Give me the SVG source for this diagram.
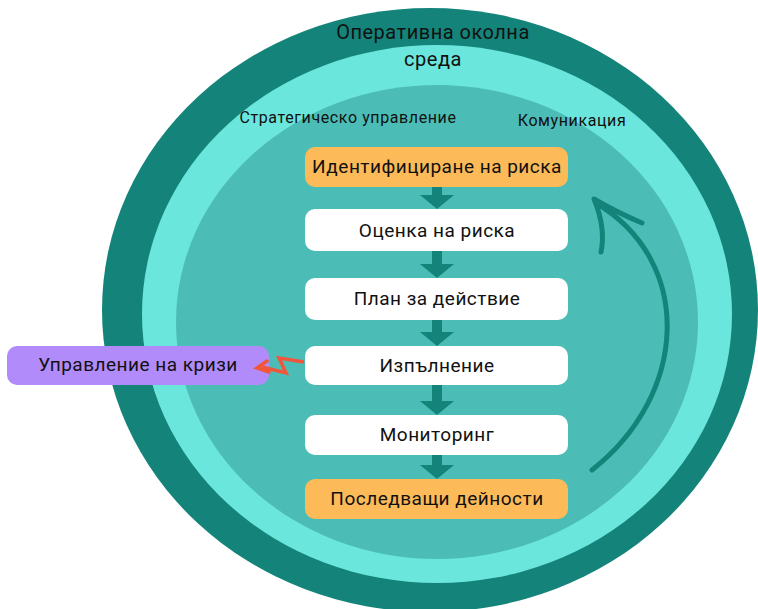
<svg xmlns="http://www.w3.org/2000/svg" width="758" height="609" viewBox="0 0 758 609">
<defs>
<style>
.t{font-family:Roboto,"Liberation Sans",sans-serif;fill:#111;text-anchor:middle}
.box{font-size:19px;letter-spacing:0.5px}
.lbl{font-size:16px;letter-spacing:0.6px}
.big{font-size:20px;letter-spacing:0.5px}
.ow{fill:#fdba58}
.wh{fill:#ffffff}
.arr{fill:#14847a}
</style>
</defs>
<rect width="758" height="609" fill="#ffffff"/>
<g id="rings">
<ellipse cx="430" cy="310" rx="328" ry="302" fill="#14847a"/>
<ellipse cx="437" cy="314" rx="295" ry="269" fill="#6be6dd"/>
<ellipse cx="437" cy="322" rx="261" ry="237" fill="#4bbdb6"/>
</g>
<g id="ring-labels">
<text class="t big" x="433" y="39">Оперативна околна</text>
<text class="t big" x="433" y="66">среда</text>
<text class="t lbl" x="348" y="123">Стратегическо управление</text>
<text class="t lbl" x="572" y="126">Комуникация</text>
</g>
<g id="n1"><rect class="ow" x="305" y="147" width="263" height="40" rx="10"/><text class="t box" x="437" y="173">Идентифициране на риска</text></g>
<g id="n2"><rect class="wh" x="305" y="209" width="263" height="42" rx="10"/><text class="t box" x="437" y="237">Оценка на риска</text></g>
<g id="n3"><rect class="wh" x="305" y="278" width="263" height="42" rx="10"/><text class="t box" x="437" y="305">План за действие</text></g>
<g id="n4"><rect class="wh" x="305" y="346" width="263" height="39" rx="10"/><text class="t box" x="437" y="372">Изпълнение</text></g>
<g id="n5"><rect class="wh" x="305" y="415" width="263" height="40" rx="10"/><text class="t box" x="437" y="441">Мониторинг</text></g>
<g id="n6"><rect class="ow" x="305" y="479" width="263" height="40" rx="10"/><text class="t box" x="437" y="505">Последващи дейности</text></g>
<g id="crisis"><rect x="7" y="346" width="262" height="39" rx="10" fill="#b28bfa"/><text class="t box" x="138" y="371">Управление на кризи</text></g>
<g id="connectors">
<g class="arr">
<path d="M432,187 h10 v8 h12 l-17,14 l-17,-14 h12 z"/>
<path d="M432,251 h10 v13 h12 l-17,14 l-17,-14 h12 z"/>
<path d="M432,320 h10 v12 h12 l-17,14 l-17,-14 h12 z"/>
<path d="M432,385 h10 v16 h12 l-17,14 l-17,-14 h12 z"/>
<path d="M432,455 h10 v10 h12 l-17,14 l-17,-14 h12 z"/>
</g>
<path d="M304,362 L279,358 L286,373 L262,367" fill="none" stroke="#f0573a" stroke-width="3.5" stroke-linejoin="miter"/>
<path d="M267,361 L257,368 L269,372" fill="none" stroke="#f0573a" stroke-width="3.5" stroke-linecap="round"/>
<path d="M592,470 C688,395 695,262 596,203" fill="none" stroke="#14847a" stroke-width="5" stroke-linecap="round"/>
<path d="M642,223 Q616,212 594,199 Q606,228 601,252" fill="none" stroke="#14847a" stroke-width="5" stroke-linecap="round" stroke-linejoin="round"/>
</g>
</svg>
